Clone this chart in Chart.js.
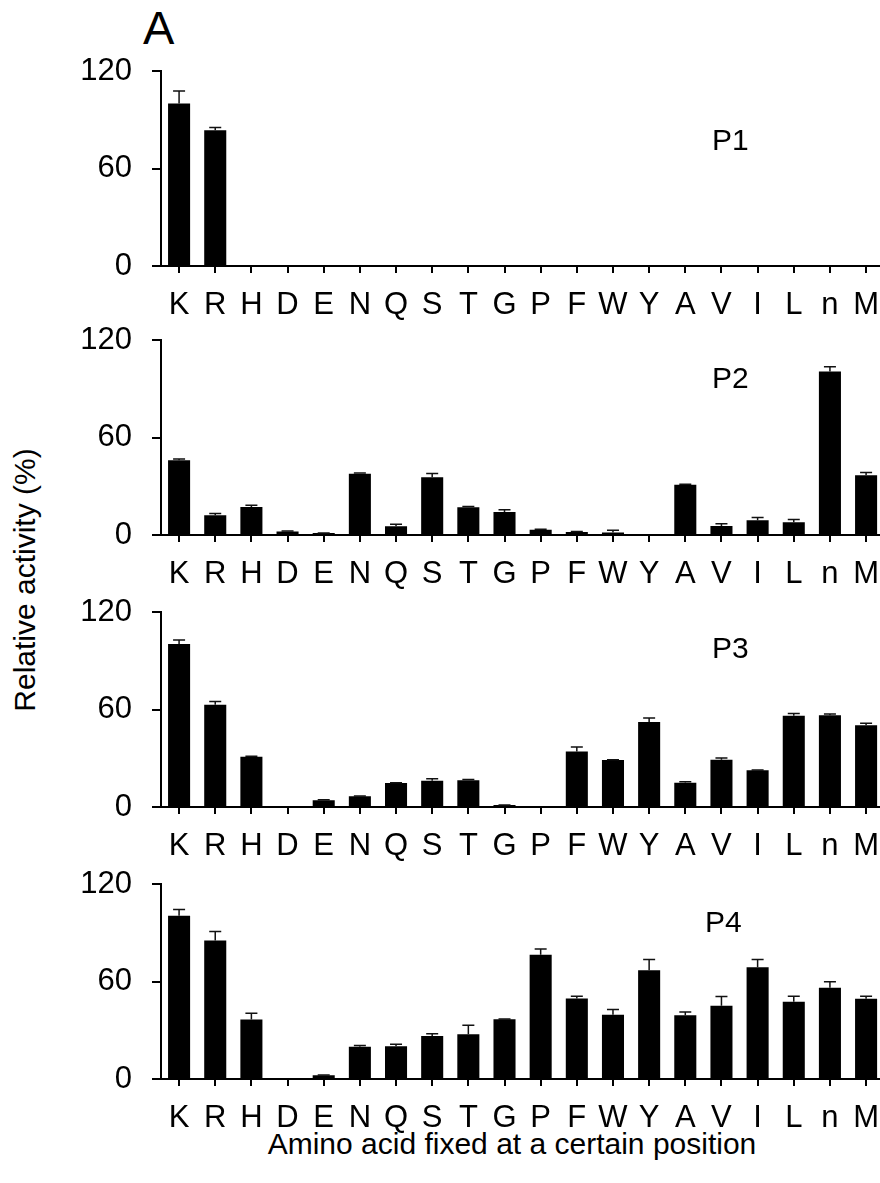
<!DOCTYPE html>
<html>
<head>
<meta charset="utf-8">
<script src="https://cdn.jsdelivr.net/npm/chart.js@4.4.1/dist/chart.umd.min.js"></script>
<style>
  html, body { margin: 0; padding: 0; background: #fff; overflow: hidden; }
  #wrap { position: relative; width: 893px; height: 1183px; font-family: 'Liberation Sans', Arial, sans-serif; color: #000; }
  #wrap canvas { position: absolute; left: 0; }
  .txt { position: absolute; white-space: nowrap; line-height: 1; }
</style>
</head>
<body>
<div id="wrap">
  <div class="txt" style="left:143px; top:4px; font-size:47px;">A</div>
  <div class="txt" style="left:25px; top:580px; font-size:30px; transform: translate(-50%, -50%) rotate(-90deg);">Relative activity (%)</div>
  <div class="txt" style="left:512px; top:1144px; font-size:30px; transform: translate(-50%, -50%);">Amino acid fixed at a certain position</div>
  <canvas id="p1" width="893" height="303" style="top:33px"></canvas>
  <canvas id="p2" width="893" height="303" style="top:302px"></canvas>
  <canvas id="p3" width="893" height="303" style="top:574px"></canvas>
  <canvas id="p4" width="893" height="303" style="top:846px"></canvas>
</div>
<script>
// amino acids along the x axis
const aminoAcids = ['K', 'R', 'H', 'D', 'E', 'N', 'Q', 'S', 'T', 'G', 'P', 'F', 'W', 'Y', 'A', 'V', 'I', 'L', 'n', 'M'];
const yTicks = [0, 60, 120];

// relative activity (%) and error (+SD) for each position
const p1Values = [100, 83.6, 0, 0, 0, 0, 0, 0, 0, 0, 0, 0, 0, 0, 0, 0, 0, 0, 0, 0];
const p1Errors = [7.7, 1.6, 0, 0, 0, 0, 0, 0, 0, 0, 0, 0, 0, 0, 0, 0, 0, 0, 0, 0];

const p2Values = [46, 12.2, 17.3, 2.1, 1.2, 37.7, 5.4, 35.5, 17.1, 14.2, 3.3, 1.9, 1.6, 0, 30.9, 5.6, 9.1, 7.8, 100.6, 36.7];
const p2Errors = [0.8, 1, 1, 0.3, 0.1, 0.5, 1.2, 2.4, 0.4, 1.3, 0.3, 0.2, 1.3, 0, 0.4, 1.4, 1.6, 1.7, 2.9, 1.7];

const p3Values = [100.3, 63, 31, 0, 4.1, 6.6, 14.8, 16.2, 16.4, 1.2, 0, 34.1, 28.9, 52.3, 15, 29.1, 22.6, 56.2, 56.4, 50.3];
const p3Errors = [2.5, 2, 0.2, 0, 0.4, 0.2, 0.2, 1.2, 0.6, 0.1, 0, 2.8, 0.2, 2.5, 0.6, 1.1, 0.2, 1.4, 0.8, 1.2];

const p4Values = [100.4, 85.2, 36.6, 0.3, 2.3, 19.8, 20.2, 26.5, 27.6, 36.8, 76.5, 49.6, 39.5, 66.9, 39.3, 45.1, 68.7, 47.5, 56.2, 49.4];
const p4Errors = [3.9, 5.5, 3.9, 0, 0.2, 0.8, 1.2, 1.3, 5.5, 0.2, 3.5, 1.4, 3.3, 6.6, 1.9, 5.7, 4.8, 3.5, 3.7, 1.6];

const FONT = "'Liberation Sans', Arial, sans-serif";

// error bars (upward only) + panel label
const errorBars = {
    id: 'errorBars',
    afterDatasetsDraw(chart, args, opts) {
        const ctx = chart.ctx;
        const yScale = chart.scales.y;
        const meta = chart.getDatasetMeta(0);
        const vals = chart.data.datasets[0].data;
        ctx.save();
        ctx.strokeStyle = '#111';
        ctx.lineWidth = 1.5;
        meta.data.forEach((bar, i) => {
            const e = opts.errors[i];
            if (!e) return;
            const yTop = yScale.getPixelForValue(vals[i] + e);
            const yBar = yScale.getPixelForValue(vals[i]);
            ctx.beginPath();
            ctx.moveTo(bar.x, yBar);
            ctx.lineTo(bar.x, yTop);
            ctx.moveTo(bar.x - 6, yTop);
            ctx.lineTo(bar.x + 6, yTop);
            ctx.stroke();
        });
        ctx.fillStyle = '#000';
        ctx.font = '30px ' + FONT;
        ctx.textAlign = 'left';
        ctx.textBaseline = 'alphabetic';
        ctx.fillText(opts.label, opts.labelX, opts.labelY);
        ctx.restore();
    }
};

function makePanel(id, values, errors, label, labelX, labelY) {
    return new Chart(document.getElementById(id).getContext('2d'), {
        type: 'bar',
        data: {
            labels: aminoAcids,
            datasets: [{
                data: values,
                backgroundColor: '#000',
                borderWidth: 0,
                barPercentage: 0.61,
                categoryPercentage: 1
            }]
        },
        options: {
            responsive: false,
            animation: false,
            devicePixelRatio: 1,
            layout: { padding: 0 },
            plugins: {
                legend: { display: false },
                tooltip: { enabled: false },
                errorBars: { errors: errors, label: label, labelX: labelX, labelY: labelY }
            },
            scales: {
                x: {
                    offset: true,
                    border: { display: true, color: '#000', width: 2 },
                    grid: { offset: false, drawOnChartArea: false, drawTicks: true, tickLength: 7, color: '#000', lineWidth: 2 },
                    ticks: { color: '#000', font: { family: FONT, size: 31 }, padding: 14, maxRotation: 0, autoSkip: false },
                    afterFit(scale) { scale.height = 70; }
                },
                y: {
                    min: 0,
                    max: 120,
                    border: { display: true, color: '#000', width: 2 },
                    grid: { drawOnChartArea: false, drawTicks: true, tickLength: 9, color: '#000', lineWidth: 2 },
                    ticks: { color: '#000', font: { family: FONT, size: 31, lineHeight: '36px' }, padding: 20 },
                    afterBuildTicks(scale) { scale.ticks = yTicks.map(v => ({ value: v })); },
                    afterFit(scale) { scale.width = 161; }
                }
            }
        },
        plugins: [errorBars]
    });
}

makePanel('p1', p1Values, p1Errors, 'P1', 712, 117);
makePanel('p2', p2Values, p2Errors, 'P2', 712, 86);
makePanel('p3', p3Values, p3Errors, 'P3', 712, 84);
makePanel('p4', p4Values, p4Errors, 'P4', 705, 86);
</script>
</body>
</html>
